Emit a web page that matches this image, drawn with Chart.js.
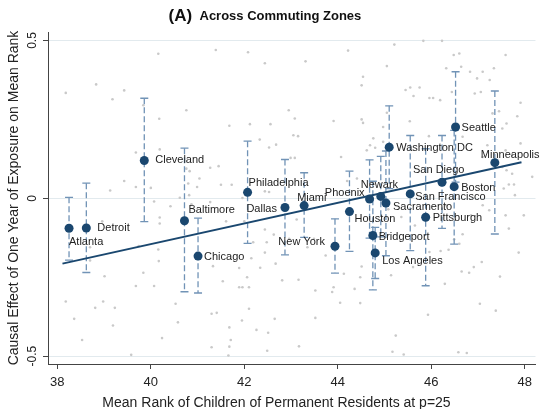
<!DOCTYPE html>
<html>
<head>
<meta charset="utf-8">
<script src="https://cdn.jsdelivr.net/npm/chart.js@4.4.1/dist/chart.umd.min.js"></script>
<style>
  html, body { margin: 0; padding: 0; background: #fff; }
</style>
</head>
<body>
<canvas id="chart" width="540" height="409"></canvas>
<script>
// large commuting zones, with 95% CI of the exposure effect
const cities = ['Atlanta', 'Detroit', 'Cleveland', 'Baltimore', 'Chicago', 'Philadelphia', 'Dallas', 'Miami',
    'New York', 'Houston', 'Phoenix', 'Newark', 'Sacramento', 'Bridgeport', 'Los Angeles', 'Washington DC',
    'San Francisco', 'Pittsburgh', 'San Diego', 'Boston', 'Seattle', 'Minneapolis'];
const cityRank = [38.25, 38.62, 39.86, 40.72, 41.01, 42.07, 42.87, 43.28, 43.94, 44.25, 44.68, 44.92,
    45.03, 44.75, 44.80, 45.10, 45.55, 45.88, 46.23, 46.49, 46.52, 47.36];
const cityEffect = [-0.095, -0.094, 0.120, -0.071, -0.183, 0.019, -0.029, -0.023, -0.152, -0.042, -0.002, 0.006,
    -0.015, -0.118, -0.173, 0.162, 0.014, -0.060, 0.051, 0.037, 0.226, 0.113];
const ciLow = [-0.196, -0.235, -0.074, -0.296, -0.300, -0.143, -0.179, -0.124, -0.237, -0.168, -0.126, -0.122,
    -0.182, -0.290, -0.254, 0.031, -0.166, -0.277, -0.095, -0.145, 0.051, -0.113];
const ciHigh = [0.003, 0.048, 0.317, 0.159, -0.063, 0.181, 0.123, 0.081, -0.065, 0.086, 0.122, 0.133,
    0.150, 0.054, -0.092, 0.293, 0.199, 0.157, 0.199, 0.215, 0.401, 0.340];

// all other commuting zones (grey background)
const czRank = [38.18, 38.83, 39.18, 39.43, 40.16, 41.39, 42.08, 42.44, 39.84, 40.18, 40.76, 41.68, 42.12, 42.56,
    42.95, 43.08, 42.33, 42.53, 42.68, 43.05, 39.68, 40.19, 40.76, 40.83, 41.27, 41.45, 39.43, 39.68, 40.00,
    39.13, 40.80, 41.04, 40.99, 41.50, 41.73, 40.82, 40.62, 42.44, 42.53, 42.99, 43.08, 41.96, 45.21, 45.83,
    46.23, 44.22, 43.31, 45.05, 46.48, 46.60, 47.59, 44.54, 44.51, 45.45, 45.55, 45.75, 45.96, 46.04, 46.19,
    46.44, 46.83, 46.98, 47.10, 47.25, 46.93, 47.06, 47.31, 47.45, 47.61, 47.91, 47.84, 43.91, 44.51, 44.54,
    45.05, 45.54, 45.62, 43.15, 44.76, 44.97, 44.80, 44.97, 45.03, 45.95, 44.07, 44.62, 44.69, 47.20, 47.59,
    47.73, 47.91, 47.10, 47.52, 47.66, 47.77, 47.79, 47.73, 48.16, 44.41, 44.20, 47.61, 47.55, 46.67, 46.32,
    46.64, 47.34, 47.52, 40.07, 40.42, 40.87, 41.27, 40.19, 40.19, 38.96, 38.70, 38.70, 41.61, 42.00, 42.44,
    42.63, 42.19, 42.48, 39.74, 40.16, 40.17, 42.44, 42.15, 42.67, 41.89, 42.34, 42.06, 41.33, 41.54, 41.89,
    41.96, 42.10, 42.81, 39.01, 39.84, 39.68, 40.07, 38.18, 38.98, 38.81, 39.23, 40.53, 42.10, 41.30, 41.41,
    38.36, 40.58, 41.95, 42.65, 39.19, 41.68, 42.26, 42.51, 38.53, 40.24, 41.71, 41.30, 41.68, 42.49, 39.58,
    41.66, 43.16, 43.52, 43.91, 43.88, 44.36, 44.51, 44.48, 44.13, 45.14, 44.05, 44.48, 43.52, 45.24, 43.17,
    45.17, 45.41, 46.58, 46.76, 45.93, 46.29, 47.04, 47.38, 47.47, 46.65, 46.81, 46.91, 47.08, 47.87, 46.37,
    46.20, 46.49, 46.67, 46.60, 45.96, 45.61, 43.35, 43.74, 43.12, 43.49, 42.96, 45.08, 45.36, 45.65, 46.32,
    46.85, 47.10, 47.24, 47.59, 47.66, 47.98];
const czEffect = [0.334, 0.361, 0.314, 0.342, 0.458, 0.470, 0.463, 0.428, 0.295, 0.252, 0.279, 0.230, 0.235, 0.235,
    0.279, 0.253, 0.186, 0.161, 0.170, 0.200, 0.145, 0.155, 0.094, 0.086, 0.097, 0.102, 0.055, 0.036, 0.033,
    0.025, 0.047, 0.063, 0.036, 0.043, 0.043, 0.010, 0.002, 0.022, 0.020, 0.128, 0.128, 0.001, 0.487, 0.499,
    0.499, 0.468, 0.434, 0.419, 0.454, 0.459, 0.454, 0.385, 0.358, 0.343, 0.351, 0.351, 0.318, 0.318, 0.311,
    0.337, 0.401, 0.380, 0.401, 0.375, 0.332, 0.337, 0.269, 0.276, 0.237, 0.303, 0.260, 0.245, 0.250, 0.239,
    0.271, 0.244, 0.324, 0.197, 0.190, 0.226, 0.160, 0.179, 0.150, 0.197, 0.131, 0.152, 0.168, 0.168, 0.152,
    0.137, 0.174, 0.131, 0.099, 0.044, 0.044, 0.010, 0.078, 0.068, 0.063, 0.055, 0.089, 0.031, 0.195, 0.412,
    0.417, 0.412, 0.221, -0.010, -0.025, -0.019, -0.012, -0.061, -0.080, -0.073, -0.155, -0.197, -0.073, -0.073, -0.099,
    -0.115, -0.139, -0.139, -0.151, -0.162, -0.199, -0.172, -0.190, -0.207, -0.221, -0.220, -0.250, -0.215, -0.263, -0.282,
    -0.282, -0.282, -0.260, -0.247, -0.236, -0.278, -0.278, -0.327, -0.327, -0.347, -0.347, -0.334, -0.350, -0.366, -0.363,
    -0.382, -0.393, -0.387, -0.382, -0.403, -0.409, -0.417, -0.426, -0.449, -0.443, -0.449, -0.472, -0.470, -0.483, -0.496,
    -0.498, -0.258, -0.292, -0.282, -0.297, -0.287, -0.216, -0.250, -0.239, -0.244, -0.331, -0.332, -0.379, -0.435, -0.469,
    -0.486, -0.495, -0.488, -0.490, -0.369, -0.271, -0.334, -0.356, -0.248, -0.232, -0.236, -0.218, -0.202, -0.172, -0.163,
    -0.167, -0.130, -0.114, -0.144, -0.170, -0.218, -0.155, -0.181, -0.067, -0.128, -0.128, -0.035, -0.059, -0.086, -0.022,
    -0.054, -0.022, -0.038, -0.054, -0.096, -0.054];

// fitted line through the large CZs
const fitRank = [38.11, 47.93];
const fitEffect = [-0.207, 0.114];

const xTicks = [38, 40, 42, 44, 46, 48];
const yTicks = [-0.5, 0, 0.5];
const yTickLabels = ['-0.5', '0', '0.5'];

const FONT = "'Liberation Sans', Arial, sans-serif";
const NAVY = '#1a476f';

// where each city name sits relative to its marker: [dx, dy, align]
const labelPos = [
    [0, 14, 'left'], [11, 0, 'left'], [11, 0, 'left'], [4, -11, 'left'], [6, 1, 'left'],
    [1, -9, 'left'], [-8, 2, 'right'], [-7, -8, 'left'], [-10, -4, 'right'], [5, 7, 'left'],
    [-5, -6, 'right'], [-20, -11, 'left'], [7, 4, 'left'], [6, 1, 'left'], [7, 8, 'left'],
    [7, 1, 'left'], [5, 3, 'left'], [7, 1, 'left'], [-29, -12, 'left'], [7, 1, 'left'],
    [6, 1, 'left'], [-14, -8, 'left']
];

const overlay = {
    id: 'overlay',
    afterDatasetDraw(chart, args) {
        if (args.index !== 0) return;
        // confidence intervals go on top of the grey dots, below the fit and markers
        const { ctx, scales: { x, y } } = chart;
        ctx.save();
        ctx.strokeStyle = '#7193b6';
        ctx.lineWidth = 1.3;
        cities.forEach((_, i) => {
            const px = x.getPixelForValue(cityRank[i]);
            const top = y.getPixelForValue(ciHigh[i]);
            const bot = y.getPixelForValue(ciLow[i]);
            ctx.setLineDash([6, 3]);
            ctx.beginPath();
            ctx.moveTo(px, top);
            ctx.lineTo(px, bot);
            ctx.stroke();
            ctx.setLineDash([]);
            ctx.beginPath();
            ctx.moveTo(px - 4, top); ctx.lineTo(px + 4, top);
            ctx.moveTo(px - 4, bot); ctx.lineTo(px + 4, bot);
            ctx.stroke();
        });
        ctx.restore();
    },
    afterDatasetsDraw(chart) {
        const { ctx, scales: { x, y } } = chart;
        ctx.save();
        ctx.font = '11px ' + FONT;
        ctx.fillStyle = '#222';
        ctx.textBaseline = 'middle';
        cities.forEach((name, i) => {
            const [dx, dy, align] = labelPos[i];
            ctx.textAlign = align;
            ctx.fillText(name, x.getPixelForValue(cityRank[i]) + dx, y.getPixelForValue(cityEffect[i]) + dy);
        });
        ctx.restore();
    },
    afterDraw(chart) {
        const { ctx, scales: { y } } = chart;
        ctx.save();
        ctx.fillStyle = '#111';
        ctx.textBaseline = 'middle';
        ctx.textAlign = 'left';
        ctx.font = 'bold 17px ' + FONT;
        ctx.fillText('(A)', 168.5, 16);
        ctx.font = 'bold 13px ' + FONT;
        ctx.fillText('Across Commuting Zones', 199.5, 16);

        ctx.fillStyle = '#222';
        ctx.textAlign = 'center';
        ctx.font = '14px ' + FONT;
        ctx.fillText('Mean Rank of Children of Permanent Residents at p=25', 276.5, 403.5);

        ctx.save();
        ctx.translate(14, (y.top + y.bottom) / 2);
        ctx.rotate(-Math.PI / 2);
        ctx.fillText('Causal Effect of One Year of Exposure on Mean Rank', 0, 0);
        ctx.restore();

        ctx.font = '12px ' + FONT;
        yTicks.forEach((v, i) => {
            ctx.save();
            ctx.translate(33, y.getPixelForValue(v));
            ctx.rotate(-Math.PI / 2);
            ctx.fillText(yTickLabels[i], 0, 0);
            ctx.restore();
        });
        ctx.restore();
    }
};

new Chart(document.getElementById('chart'), {
    data: {
        datasets: [{
            type: 'scatter',
            data: czRank.map((v, i) => ({ x: v, y: czEffect[i] })),
            pointRadius: 1.3,
            pointBackgroundColor: '#c9c9c9',
            pointBorderWidth: 0,
            order: 3
        }, {
            type: 'line',
            data: fitRank.map((v, i) => ({ x: v, y: fitEffect[i] })),
            borderColor: NAVY,
            borderWidth: 2,
            pointRadius: 0,
            order: 2
        }, {
            type: 'scatter',
            data: cityRank.map((v, i) => ({ x: v, y: cityEffect[i] })),
            pointRadius: 4.5,
            pointBackgroundColor: NAVY,
            pointBorderWidth: 0,
            order: 1
        }]
    },
    options: {
        responsive: false,
        animation: false,
        layout: { padding: { top: 32, right: 0, left: 0, bottom: 0 } },
        plugins: {
            legend: { display: false },
            tooltip: { enabled: false }
        },
        scales: {
            x: {
                type: 'linear',
                min: 37.8,
                max: 48.23,
                afterBuildTicks: s => { s.ticks = xTicks.map(v => ({ value: v })); },
                afterFit: s => { s.height = 45; },
                ticks: {
                    font: { family: FONT, size: 13 },
                    color: '#222',
                    padding: 6,
                    maxRotation: 0,
                    autoSkip: false
                },
                grid: { drawOnChartArea: false, tickLength: 5, tickColor: '#444' },
                border: { color: '#444' }
            },
            y: {
                type: 'linear',
                min: -0.525,
                max: 0.527,
                afterBuildTicks: s => { s.ticks = yTicks.map(v => ({ value: v })); },
                afterFit: s => { s.width = 48; },
                ticks: { display: false },
                grid: { color: '#e2eaee', tickLength: 5, tickColor: '#444' },
                border: { color: '#444' }
            }
        }
    },
    plugins: [overlay]
});
</script>
</body>
</html>
